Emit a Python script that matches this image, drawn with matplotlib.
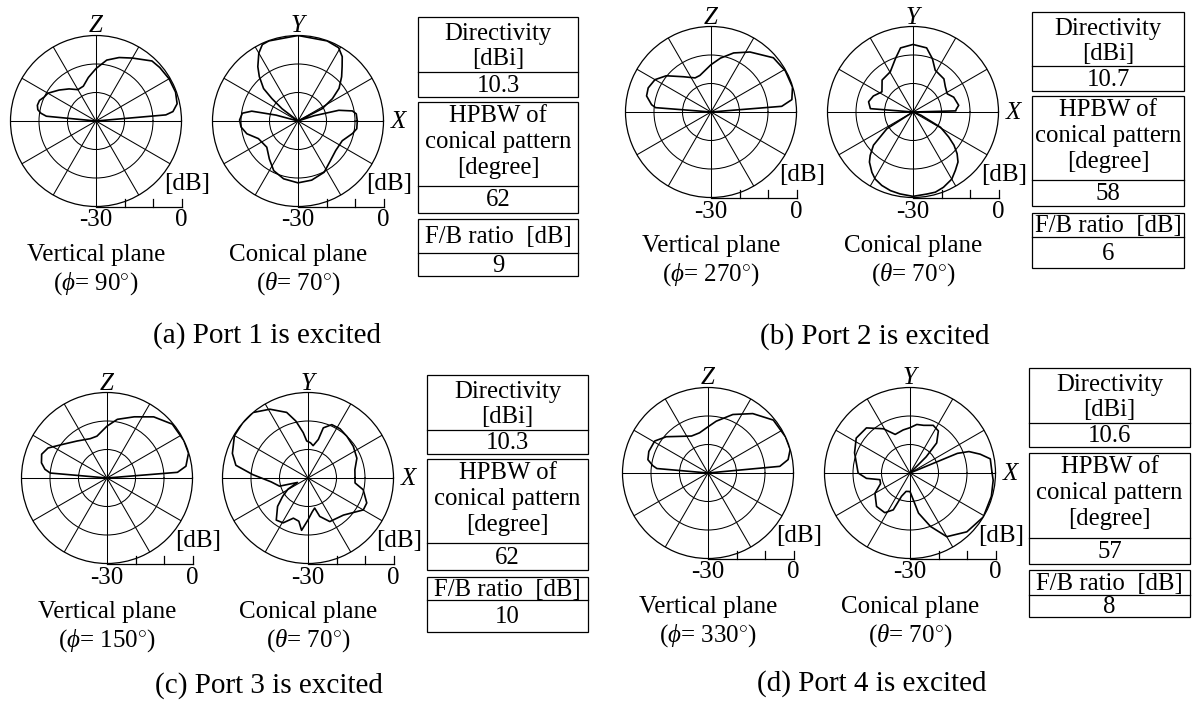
import numpy as np
import matplotlib
matplotlib.use("Agg")
import matplotlib.pyplot as plt
from matplotlib.patches import Rectangle

plt.rcParams['font.family'] = ['Liberation Serif', 'DejaVu Serif']
plt.rcParams['mathtext.fontset'] = 'custom'
plt.rcParams['mathtext.rm'] = 'Liberation Serif'
plt.rcParams['mathtext.it'] = 'Liberation Serif:italic'

W, H = 1198, 704

# ---- radiation patterns: angle (deg, ccw from the right-hand axis), level (dB) ----
# vertical plane cuts
va_ang = [0, 4, 5, 7, 12, 20, 30, 40, 47, 60, 70, 80, 90, 100, 110, 120, 130, 140, 150,
          155, 160, 165, 169, 172, 174.5, 175, 180, 360]
va_db = [-30, -30, -5.4, -2.8, -0.9, -0.3, -0.4, -0.8, -1.2, -4.5, -6.3, -8.3, -11.6, -14.5,
         -17, -17.3, -15.3, -13.1, -10.5, -10, -8.9, -8.7, -9.2, -10.5, -12.5, -30, -30, -30]

vb_ang = [0, 4, 4.6, 8.7, 17, 29, 41, 57, 69, 80, 90, 107, 115, 128, 141, 150, 159, 166,
          173, 175.5, 176, 180, 360]
vb_db = [-30, -30, -5.1, -1.3, -0.1, -0.2, -1.0, -4.9, -7.8, -10.8, -13.4, -16.6, -16.8,
         -14.3, -9.8, -7.3, -6.4, -6.7, -9, -10.5, -30, -30, -30]

vc_ang = [0, 4, 4.6, 8.5, 17, 26, 39.5, 52.6, 66, 80, 90, 103.5, 113, 129, 142, 153, 160,
          167, 172, 175, 175.5, 180, 360]
vc_db = [-30, -30, -5.2, -2.0, -0.1, 0, -0.3, -3, -6.5, -9.1, -11.8, -14.9, -15, -13.3,
         -10.7, -6.8, -5.6, -6.4, -8, -10, -30, -30, -30]

vd_ang = [0, 4.5, 5.3, 9.5, 16, 25, 39, 53, 67, 81, 90, 102, 114, 128, 139, 149, 160,
          167.5, 172.5, 175, 175.5, 180, 360]
vd_db = [-30, -30, -4.7, -1.5, 0, 0, -0.5, -3.9, -7.7, -11.6, -13.8, -15.6, -15.8, -13.7,
         -10.6, -8.2, -7.9, -8.4, -10.5, -12, -30, -30, -30]

# conical cuts (theta = 70 deg), angle = phi
ca_ang = [0, 7, 10.5, 14.7, 18, 21, 24, 27, 33, 38.5, 45.4, 51, 55.5, 61, 70, 90, 110, 115,
          120, 126.5, 131, 136.7, 139.3, 142.4, 146, 160, 165, 168, 172, 179, 186, 194, 204,
          220, 233, 244, 256, 270, 283, 297, 309, 322, 336, 347, 352.5, 360]
ca_db = [-9.2, -9.4, -10.6, -15.2, -24, -30, -30, -20.5, -15.6, -11.6, -8.2, -5.4, -2.6,
         -0.6, -0.1, 0, -0.1, -0.4, -2.5, -6.3, -9.3, -13.4, -17.9, -22.9, -30, -30, -22,
         -13.4, -10.3, -9.5, -9.9, -11.5, -14.8, -15.7, -13.3, -10.6, -9.1, -8.3, -8.7,
         -9.8, -12, -13.2, -13, -10.4, -9.2, -9.2]

cb_ang = [0, 1.5, 3.6, 8.3, 20, 28, 38, 47, 62, 70, 78, 90, 101, 108, 119.5, 134, 147, 158,
          167, 175.5, 177, 205, 212.7, 220, 225.4, 229, 235.7, 240.5, 247, 254, 261, 270,
          279.7, 285.6, 292, 300, 306, 312, 316.6, 321, 325, 331, 338, 342, 360]
cb_db = [-30, -15, -14.8, -13.8, -14.8, -16.4, -15.6, -14.1, -13.4, -10.1, -7.0, -6.3, -7.1,
         -10.2, -13.8, -14.4, -17, -15, -14, -15, -30, -30, -19.1, -11.9, -8.6, -6.7, -4.4,
         -3.0, -2.0, -1.3, -0.9, -0.4, -0.8, -0.8, -1.5, -2.8, -4.7, -6.4, -8.7, -11.5,
         -14.7, -19, -27, -30, -30]

cc_ang = [0, 10, 22, 35, 47, 57, 66, 73, 75, 81, 86, 92, 96, 102, 108, 119, 130, 140, 150,
          162, 170, 176.5, 186, 196, 203, 209, 216, 223, 233, 241, 250, 258, 263, 270, 277,
          282.5, 287, 296.6, 313.7, 330, 337, 348, 354, 360]
cc_db = [-13.5, -13.3, -11.5, -10.6, -10, -9.4, -9.5, -11.6, -16, -18.5, -17.6, -17, -14,
         -9.6, -5.8, -2.4, 0, 0, -0.2, -2.1, -4.3, -10.6, -17, -19.6, -26, -22, -19, -15.4,
         -11.5, -12, -15, -14.5, -11.5, -15.3, -18, -19.2, -15.9, -12.9, -12, -7.6, -7.6,
         -10.2, -13.4, -13.5]

cd_ang = [0, 10, 15, 20, 22.5, 23.5, 40, 45, 48.4, 56, 64, 74, 82, 90, 99, 111, 121, 134,
          147, 160, 180, 187, 192.5, 200, 210, 225, 237.6, 245.6, 250, 258, 270, 277, 282,
          291, 300, 314, 329, 344, 355, 360]
cd_db = [-1.2, -1.4, -4.5, -8, -12, -30, -30, -22, -15.9, -12.2, -11.4, -12.6, -12.8, -14.1,
         -14.7, -15.5, -11.9, -8, -7.5, -9.3, -11.8, -14.6, -19.2, -19, -15.8, -13.4, -13.5,
         -15.8, -21.3, -23.4, -23.5, -20.5, -15.6, -9.9, -4.2, -1.3, 0, -0.3, -0.7, -1.2]

# ---- table values ----
directivity = ["10.3", "10.7", "10.3", "10.6"]
hpbw = ["62", "58", "62", "57"]
fb_ratio = ["9", "6", "10", "8"]
phi_cuts = ["90", "270", "150", "330"]
captions = ["(a) Port 1 is excited", "(b) Port 2 is excited",
            "(c) Port 3 is excited", "(d) Port 4 is excited"]

patterns = [((va_ang, va_db), (ca_ang, ca_db)),
            ((vb_ang, vb_db), (cb_ang, cb_db)),
            ((vc_ang, vc_db), (cc_ang, cc_db)),
            ((vd_ang, vd_db), (cd_ang, cd_db))]

# layout in pixels
R = 85.5
centers = [((96, 121), (298, 121)), ((711, 112), (913, 112)),
           ((107, 478), (308, 478)), ((708, 473), (910, 473))]
caption_pos = [(267, 336), (875, 337), (269, 686), (872, 684)]
# table: x0, x1, (dir top, dir sep, dir bottom), (hpbw top, sep, bottom), (fb top, sep, bottom)
tables = [(418, 578, (17, 72, 97), (102, 186, 213), (219, 253, 276)),
          (1032, 1184, (12, 66, 91), (96, 180, 206), (213, 237, 268)),
          (427, 588, (375, 430, 454), (459, 543, 570), (577, 600, 632)),
          (1029, 1190, (368, 423, 447), (453, 538, 564), (570, 595, 617))]

fig = plt.figure(figsize=(W / 100, H / 100), dpi=100)


def polar_axes(cx, cy):
    ax = fig.add_axes([(cx - R) / W, 1 - (cy + R) / H, 2 * R / W, 2 * R / H],
                      projection='polar')
    ax.set_ylim(-30, 0)
    ax.set_thetagrids(np.arange(0, 360, 30), labels=[])
    ax.set_rgrids([-20, -10], labels=[])
    ax.grid(True, color='black', lw=0.75)
    ax.spines['polar'].set_linewidth(0.9)
    ax.tick_params(length=0)
    return ax


def draw_pattern(ax, ang, db):
    th = np.deg2rad(np.asarray(ang, dtype=float))
    r = np.clip(np.asarray(db, dtype=float), -30, 0)
    ax.plot(th, r, color='black', lw=1.2, solid_joinstyle='round')


for i in range(4):
    (vang, vdb), (cang, cdb) = patterns[i]
    (vx, vy), (cx, cy) = centers[i]
    draw_pattern(polar_axes(vx, vy), vang, vdb)
    draw_pattern(polar_axes(cx, cy), cang, cdb)

# overlay in pixel coordinates for labels, scale bars and tables
ov = fig.add_axes([0, 0, 1, 1])
ov.set_xlim(0, W)
ov.set_ylim(H, 0)
ov.axis('off')
ov.patch.set_alpha(0)

fs_lab = 18
fs_tab = 17.8
for i in range(4):
    (vx, vy), (cx, cy) = centers[i]
    for k, (x, y) in enumerate([(vx, vy), (cx, cy)]):
        # dB scale bar under each pattern
        yb = y + R
        ov.plot([x, x + R], [yb, yb], color='black', lw=0.9)
        for f in (1 / 3, 2 / 3, 1.0):
            ov.plot([x + f * R] * 2, [yb, yb - 8], color='black', lw=0.9)
        ov.text(x, yb + 14, "-30", ha='center', va='center', fontsize=fs_lab)
        ov.text(x + R, yb + 14, "0", ha='center', va='center', fontsize=fs_lab)
        ov.text(x + R + 6, y + 63, "[dB]", ha='center', va='center', fontsize=fs_lab)
        top = "Z" if k == 0 else "Y"
        ov.text(x, y - R - 9, top, ha='center', va='center', fontsize=fs_lab,
                style='italic')
        if k == 0:
            ov.text(x, y + 134, "Vertical plane", ha='center', va='center', fontsize=fs_lab)
            ov.text(x, y + 163, r"($\phi$= " + phi_cuts[i] + r"$^{\circ}$)",
                    ha='center', va='center', fontsize=fs_lab)
        else:
            ov.text(x + R + 15, y + 1, "X", ha='center', va='center', fontsize=fs_lab,
                    style='italic')
            ov.text(x, y + 134, "Conical plane", ha='center', va='center', fontsize=fs_lab)
            ov.text(x, y + 163, r"($\theta$= 70$^{\circ}$)",
                    ha='center', va='center', fontsize=fs_lab)

    cxp, cyp = caption_pos[i]
    ov.text(cxp, cyp, captions[i], ha='center', va='center', fontsize=21)

    x0, x1, dbox, hbox, fbox = tables[i]
    xm = (x0 + x1) / 2
    for (t, s, b) in (dbox, hbox, fbox):
        ov.add_patch(Rectangle((x0, t), x1 - x0, b - t, fill=False, lw=0.9,
                               edgecolor='black'))
        ov.plot([x0, x1], [s, s], color='black', lw=0.9)
    t, s, b = dbox
    ov.text(xm, t + 17, "Directivity", ha='center', va='center', fontsize=fs_tab)
    ov.text(xm, t + 42, "[dBi]", ha='center', va='center', fontsize=fs_tab)
    ov.text(xm, (s + b) / 2 + 1, directivity[i], ha='center', va='center', fontsize=fs_tab)
    t, s, b = hbox
    ov.text(xm, t + 14, "HPBW of", ha='center', va='center', fontsize=fs_tab)
    ov.text(xm, t + 40, "conical pattern", ha='center', va='center', fontsize=fs_tab)
    ov.text(xm, t + 66, "[degree]", ha='center', va='center', fontsize=fs_tab)
    ov.text(xm, (s + b) / 2 + 1, hpbw[i], ha='center', va='center', fontsize=fs_tab)
    t, s, b = fbox
    ov.text(xm, (t + s) / 2 + 1, "F/B ratio  [dB]", ha='center', va='center',
            fontsize=fs_tab)
    ov.text(xm, (s + b) / 2 + 1, fb_ratio[i], ha='center', va='center', fontsize=fs_tab)

fig.savefig("out.png", dpi=100)
